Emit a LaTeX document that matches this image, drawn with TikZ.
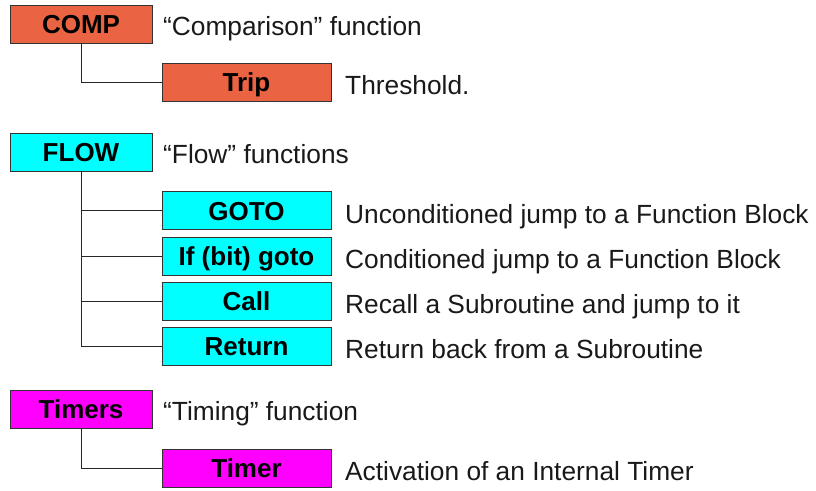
\documentclass[tikz,border=0pt]{standalone}
\usepackage{fontspec}
\setmainfont{Liberation Sans}
\usetikzlibrary{positioning}
\usepackage{xcolor}

\definecolor{compred}{RGB}{234,99,66}
\definecolor{flowcyan}{RGB}{0,255,255}
\definecolor{timemag}{RGB}{255,0,255}

\begin{document}
\begin{tikzpicture}[x=1pt,y=-1pt,
    groupbox/.style={draw=black!80, line width=0.9pt, minimum width=142pt,
        minimum height=38pt, inner sep=0pt, text height=19pt, text depth=0pt,
        font=\fontsize{26}{30}\selectfont\bfseries},
    itembox/.style={groupbox, minimum width=169pt},
    desc/.style={anchor=west, inner sep=0pt, text height=19pt, text depth=0pt,
        font=\fontsize{26.3}{30}\selectfont, text=black!90},
    link/.style={draw=black!85, line width=0.9pt}]
            \def\gx{81}
            \def\ix{246.5}
            \def\gdx{163}
            \def\idx{345}

            \useasboundingbox (0,0) rectangle (816,490);

            % comparison
            \node[groupbox, fill=compred] (comp) at (\gx, 24) {COMP};
            \node[desc] (compdesc) at (\gdx, 26) {``Comparison'' function};
            \node[itembox, fill=compred] (trip) at (\ix, 82) {Trip};
            \node[desc] (tripdesc) at (\idx, 85) {Threshold.};
            \draw[link] (comp.south) |- (trip.west);

            % flow
            \node[groupbox, fill=flowcyan] (flow) at (\gx, 152) {FLOW};
            \node[desc] (flowdesc) at (\gdx, 154) {``Flow'' functions};
            \foreach \name/\y/\lbl/\txt in {
                goto/210.5/GOTO/Unconditioned jump to a Function Block,
                ifgoto/256/If (bit) goto/Conditioned jump to a Function Block,
                call/301/Call/Recall a Subroutine and jump to it,
                return/346/Return/Return back from a Subroutine} {
                \node[itembox, fill=flowcyan] (\name) at (\ix, \y) {\lbl};
                \node[desc] (\name desc) at (\idx, \y+3) {\txt};
                \draw[link] (flow.south) |- (\name.west);
            }

            % timers
            \node[groupbox, fill=timemag] (timers) at (\gx, 409) {Timers};
            \node[desc] (timersdesc) at (\gdx, 411) {``Timing'' function};
            \node[itembox, fill=timemag] (timer) at (\ix, 468) {Timer};
            \node[desc] (timerdesc) at (\idx, 471) {Activation of an Internal Timer};
            \draw[link] (timers.south) |- (timer.west);
\end{tikzpicture}
\end{document}
